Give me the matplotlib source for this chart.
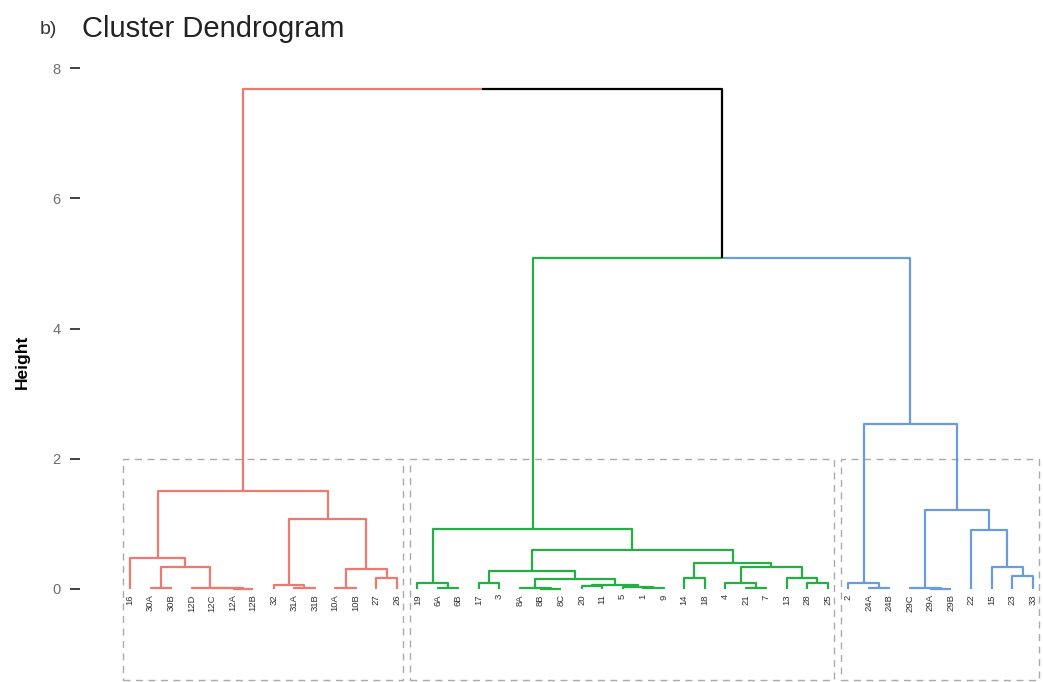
import matplotlib
matplotlib.use("Agg")
import matplotlib.pyplot as plt
from matplotlib.patches import Rectangle

plt.rcParams["font.family"] = ["Liberation Sans", "DejaVu Sans"]

# leaf labels in dendrogram order
leaves = ["16", "30A", "30B", "12D", "12C", "12A", "12B", "32", "31A", "31B", "10A", "10B", "27", "26",
          "19", "6A", "6B", "17", "3", "8A", "8B", "8C", "20", "11", "5", "1", "9", "14", "18", "4",
          "21", "7", "13", "28", "25",
          "2", "24A", "24B", "29C", "29A", "29B", "22", "15", "23", "33"]

# merges: (node, left child, right child, height)
merges = [
    ("r1", "30A", "30B", 0.02),
    ("r2", "12A", "12B", 0.005),
    ("r3", "12C", "r2", 0.01),
    ("r4", "12D", "r3", 0.015),
    ("r5", "r1", "r4", 0.34),
    ("r6", "16", "r5", 0.48),
    ("r7", "31A", "31B", 0.01),
    ("r8", "32", "r7", 0.06),
    ("r9", "10A", "10B", 0.01),
    ("r10", "27", "26", 0.17),
    ("r11", "r9", "r10", 0.30),
    ("r12", "r8", "r11", 1.07),
    ("R", "r6", "r12", 1.50),
    ("g1", "6A", "6B", 0.01),
    ("g2", "19", "g1", 0.09),
    ("g3", "17", "3", 0.09),
    ("g4", "8B", "8C", 0.005),
    ("g5", "8A", "g4", 0.01),
    ("g6", "20", "11", 0.05),
    ("g7", "1", "9", 0.01),
    ("g8", "5", "g7", 0.03),
    ("g9", "g6", "g8", 0.06),
    ("g10", "g5", "g9", 0.16),
    ("g11", "g3", "g10", 0.27),
    ("g12", "14", "18", 0.17),
    ("g13", "21", "7", 0.01),
    ("g14", "4", "g13", 0.09),
    ("g15", "28", "25", 0.09),
    ("g16", "13", "g15", 0.17),
    ("g17", "g14", "g16", 0.34),
    ("g18", "g12", "g17", 0.40),
    ("g19", "g11", "g18", 0.60),
    ("G", "g2", "g19", 0.92),
    ("b1", "24A", "24B", 0.01),
    ("b2", "2", "b1", 0.09),
    ("b3", "29A", "29B", 0.005),
    ("b4", "29C", "b3", 0.01),
    ("b5", "23", "33", 0.20),
    ("b6", "15", "b5", 0.34),
    ("b7", "22", "b6", 0.90),
    ("b8", "b4", "b7", 1.21),
    ("B", "b2", "b8", 2.53),
    ("GB", "G", "B", 5.08),
    ("root", "R", "GB", 7.68),
]

# cluster membership (k = 3)
cluster_sizes = [14, 21, 10]
cluster_colors = ["#EC7A70", "#23AF42", "#6A9BDF"]

# positions / heights / colours of every node
xpos = {name: i for i, name in enumerate(leaves)}
height = {name: 0.0 for name in leaves}
cluster_of = {}
start = 0
for c, n in enumerate(cluster_sizes):
    for name in leaves[start:start + n]:
        cluster_of[name] = c
    start += n

for node, a, b, h in merges:
    xpos[node] = (xpos[a] + xpos[b]) / 2
    height[node] = h
    ca, cb = cluster_of.get(a), cluster_of.get(b)
    cluster_of[node] = ca if (ca is not None and ca == cb) else None

fig = plt.figure(figsize=(10.43, 6.82), dpi=100)
ax = fig.add_axes([80 / 1043, 0, 963 / 1043, 640 / 682])

for node, a, b, h in merges:
    for child in (a, b):
        c = cluster_of[child]
        col = "black" if c is None else cluster_colors[c]
        ax.plot([xpos[child], xpos[child], xpos[node]], [height[child], h, h],
                color=col, lw=1.6, solid_capstyle="butt", zorder=3)

# leaf labels
for i, name in enumerate(leaves):
    ax.text(i, -0.08, name, rotation=90, ha="center", va="top", fontsize=6.8, color="#333333")

# dashed cluster boxes
start = 0
for n in cluster_sizes:
    x0, x1 = start - 0.35, start + n - 1 + 0.3
    ax.add_patch(Rectangle((x0, -1.40), x1 - x0, 2 + 1.40, fill=False, ec="#AAAAAA",
                           lw=1.0, ls=(0, (5, 4)), zorder=1))
    start += n

ax.set_xlim(-2.44, 44.49)
ax.set_ylim(-1.4286, 8.40)
for s in ax.spines.values():
    s.set_visible(False)
ax.set_xticks([])
ax.set_yticks([0, 2, 4, 6, 8])
ax.tick_params(axis="y", length=7, width=1.3, color="#333333", pad=7, labelsize=10.5,
               labelcolor="#6E6E6E")
ax.set_ylabel("Height", fontsize=12.5, fontweight="bold", labelpad=16)

fig.text(40 / 1043, 1 - 30 / 682, "b)", fontsize=14, color="#333333", va="center", ha="left")
fig.text(82 / 1043, 1 - 29 / 682, "Cluster Dendrogram", fontsize=21, color="#222222",
         va="center", ha="left")

fig.savefig("out.png", dpi=100, facecolor="white")
